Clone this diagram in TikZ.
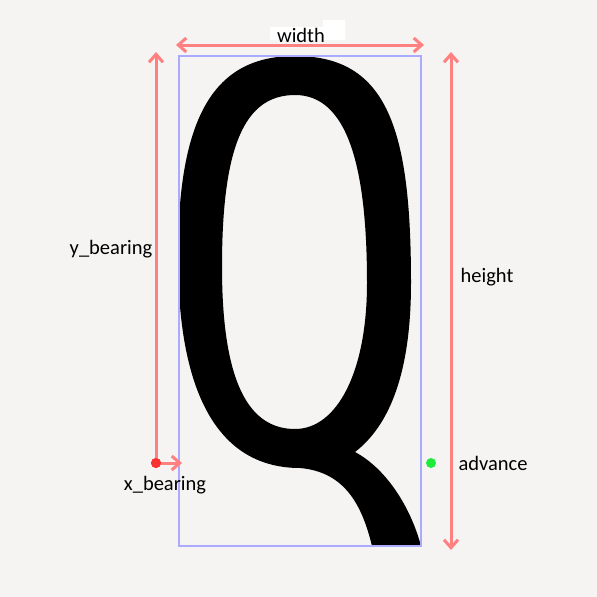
\documentclass[tikz,border=0pt]{standalone}
\usepackage{fontspec}
\usetikzlibrary{arrows.meta}
\setmainfont{Carlito}
\definecolor{bgc}{RGB}{245,244,242}
\definecolor{arr}{RGB}{255,128,128}
\definecolor{boxc}{RGB}{170,170,255}
\definecolor{grn}{RGB}{30,235,60}
\definecolor{redd}{RGB}{250,50,50}
\tikzset{
  dim/.style={draw=arr, line width=3pt, arrows={Straight Barb[length=8pt,width=14pt,line width=3pt]-Straight Barb[length=8pt,width=14pt,line width=3pt]}},
  dimone/.style={draw=arr, line width=3pt, -{Straight Barb[length=8pt,width=14pt,line width=3pt]}},
  lab/.style={font=\fontsize{20.5}{24}\selectfont, inner sep=1pt},
  dotst/.style={circle, inner sep=0pt, minimum size=10pt}
}
\begin{document}
\begin{tikzpicture}[x=1pt,y=-1pt]
\useasboundingbox (0,0) rectangle (597,597);
\fill[bgc] (0,0) rectangle (597,597);
% glyph Q
\fill[black, even odd rule]
  (295,56) .. controls (388,56) and (411,130) .. (411,283)
  .. controls (411,372) and (390,425) .. (355,452)
  .. controls (385,468) and (410,505) .. (421,546)
  -- (372,546)
  .. controls (362,505) and (345,472) .. (300,468)
  .. controls (222,468) and (178,400) .. (178,257)
  .. controls (178,115) and (215,56) .. (295,56) -- cycle
  (295,95) .. controls (347,95) and (367,165) .. (367,283)
  .. controls (367,372) and (337,429) .. (295,429)
  .. controls (250,429) and (222,385) .. (222,267)
  .. controls (222,145) and (245,95) .. (295,95) -- cycle;
% ink box
\node[draw=boxc, line width=1.3pt, inner sep=0pt, minimum width=242pt, minimum height=490pt] (bb) at (300,301) {};
% width label
\fill[white] (270,27) -- (323,27) -- (323,20) -- (345,20) -- (345,40) -- (270,40) -- cycle;
\node[lab] (wl) at (301,35) {width};
\coordinate (wa) at (176,45);
\coordinate (wb) at (424,45);
\draw[dim] (wa) -- (wb);
% left vertical
\coordinate (ya) at (156,52);
\node[dotst, fill=redd] (rd) at (156,463) {};
\draw[dimone] (rd.center) -- (ya);
\coordinate (xb) at (182,463);
\draw[dimone] (rd.center) -- (xb);
\node[dotst, fill=redd] at (156,463) {};
\node[lab] (yl) at (111,249) {y\_bearing};
\node[lab] (xl) at (165,485) {x\_bearing};
% right vertical
\coordinate (ha) at (451,52);
\coordinate (hb) at (451,550);
\draw[dim] (ha) -- (hb);
\node[lab] (hl) at (487,277) {height};
\node[dotst, fill=grn] (gd) at (431,463) {};
\node[lab] (al) at (493,463) {advance};
\end{tikzpicture}
\end{document}
